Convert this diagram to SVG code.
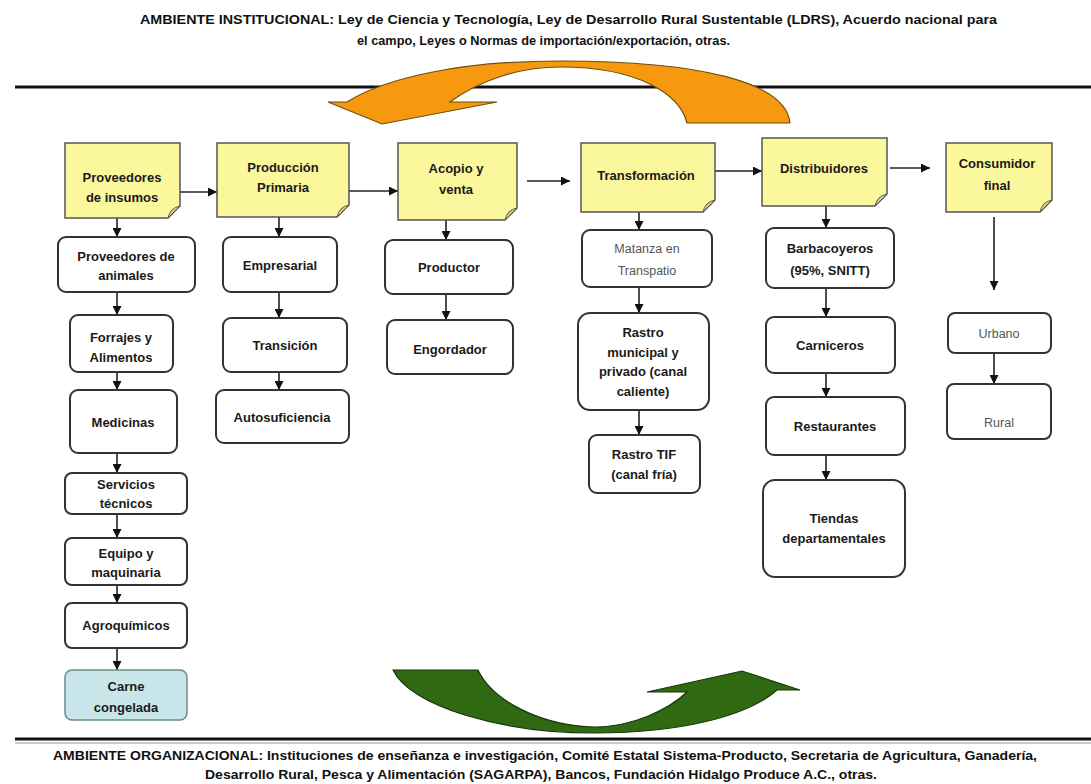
<svg xmlns="http://www.w3.org/2000/svg" width="1091" height="784" viewBox="0 0 1091 784">
<style>
.t{font-family:"Liberation Sans",Arial,sans-serif;font-weight:bold;font-size:13px;fill:#1a1a1a;text-anchor:middle}
.g{font-family:"Liberation Sans",Arial,sans-serif;font-size:12.5px;fill:#555;text-anchor:middle}
.hd{font-family:"Liberation Sans",Arial,sans-serif;font-weight:bold;font-size:12.5px;fill:#111}
.box{fill:#fff;stroke:#333;stroke-width:2}
.note{fill:#fbf79d;stroke:#555;stroke-width:1.5}
.fold{fill:#d9d278;stroke:#555;stroke-width:1}
.c{stroke:#222;stroke-width:1.6;fill:none;marker-end:url(#ah)}
</style>
<defs>
<marker id="ah" markerUnits="userSpaceOnUse" markerWidth="9" markerHeight="9" refX="9" refY="4.5" orient="auto">
<path d="M0,0 L9,4.5 L0,9 z" fill="#111"/>
</marker>
</defs>
<rect width="1091" height="784" fill="#fff"/>

<g id="titles">
<text class="hd" x="140" y="24" textLength="857" lengthAdjust="spacingAndGlyphs">AMBIENTE INSTITUCIONAL: Ley de Ciencia y Tecnología, Ley de Desarrollo Rural Sustentable (LDRS), Acuerdo nacional para</text>
<text class="hd" x="357" y="45" textLength="373" lengthAdjust="spacingAndGlyphs">el campo, Leyes o Normas de importación/exportación, otras.</text>
<text class="hd" x="53" y="760" textLength="984" lengthAdjust="spacingAndGlyphs">AMBIENTE ORGANIZACIONAL: Instituciones de enseñanza e investigación, Comité Estatal Sistema-Producto, Secretaria de Agricultura, Ganadería,</text>
<text class="hd" x="205" y="779" textLength="672" lengthAdjust="spacingAndGlyphs">Desarrollo Rural, Pesca y Alimentación (SAGARPA), Bancos, Fundación Hidalgo Produce A.C., otras.</text>
</g>

<g id="lines">
<line x1="15" y1="87" x2="1091" y2="87" stroke="#111" stroke-width="3"/>
<line x1="15" y1="739" x2="1091" y2="739" stroke="#111" stroke-width="3"/>
<line x1="15" y1="743" x2="1091" y2="743" stroke="#999" stroke-width="1"/>
</g>

<g id="orange-arrow">
<path d="M790,123 C786,82 700,61 560,61 C460,61 385,78 347,102 L328,102 L382,124 L497,102 L450,102 C480,80 520,67 560,67 C640,67 680,95 687,123 Z" fill="#f7990f" stroke="#6b5010" stroke-width="1.2"/>
</g>

<g id="green-arrow">
<path d="M393,670 L478,670 C492,700 540,726 595,727 C632,727 668,710 687,692 L647,692 L742,671 L800,690 L777,690 C748,716 680,733 595,733 C500,733 410,706 393,670 Z" fill="#2f6a12" stroke="#17380a" stroke-width="1.2"/>
</g>

<g id="connectors">
<line class="c" x1="180" y1="192" x2="217" y2="192"/>
<line class="c" x1="349" y1="191" x2="398" y2="191"/>
<line class="c" x1="527" y1="181" x2="570" y2="181"/>
<line class="c" x1="715" y1="171" x2="762" y2="171"/>
<line class="c" x1="890" y1="168" x2="930" y2="168"/>
<line class="c" x1="117" y1="218" x2="117" y2="237"/>
<line class="c" x1="117" y1="292" x2="117" y2="315"/>
<line class="c" x1="117" y1="372" x2="117" y2="390"/>
<line class="c" x1="117" y1="453" x2="117" y2="473"/>
<line class="c" x1="117" y1="514" x2="117" y2="538"/>
<line class="c" x1="117" y1="585" x2="117" y2="603"/>
<line class="c" x1="117" y1="648" x2="117" y2="670"/>
<line class="c" x1="279" y1="217" x2="279" y2="237"/>
<line class="c" x1="279" y1="292" x2="279" y2="318"/>
<line class="c" x1="279" y1="372" x2="279" y2="390"/>
<line class="c" x1="446" y1="220" x2="446" y2="240"/>
<line class="c" x1="446" y1="294" x2="446" y2="320"/>
<line class="c" x1="639" y1="212" x2="639" y2="230"/>
<line class="c" x1="639" y1="287" x2="639" y2="313"/>
<line class="c" x1="639" y1="410" x2="639" y2="435"/>
<line class="c" x1="826" y1="206" x2="826" y2="228"/>
<line class="c" x1="826" y1="288" x2="826" y2="317"/>
<line class="c" x1="826" y1="373" x2="826" y2="397"/>
<line class="c" x1="826" y1="455" x2="826" y2="480"/>
<line class="c" x1="994" y1="217" x2="994" y2="290"/>
<line class="c" x1="994" y1="353" x2="994" y2="384"/>
</g>

<g id="n-proveedores-insumos">
<path class="note" d="M65,143 H180 V206 L168,218 H65 Z"/>
<path class="fold" d="M180,206 L168,218 Q170,208 180,206 Z"/>
<text class="t" x="122" y="181.5">Proveedores</text>
<text class="t" x="122" y="201.5">de insumos</text>
</g>
<g id="n-produccion-primaria">
<path class="note" d="M217,143 H349 V205 L337,217 H217 Z"/>
<path class="fold" d="M349,205 L337,217 Q339,207 349,205 Z"/>
<text class="t" x="283" y="171.5">Producción</text>
<text class="t" x="283" y="191.5">Primaria</text>
</g>
<g id="n-acopio-venta">
<path class="note" d="M398,143 H517 V208 L505,220 H398 Z"/>
<path class="fold" d="M517,208 L505,220 Q507,210 517,208 Z"/>
<text class="t" x="456" y="172.5">Acopio y</text>
<text class="t" x="456" y="193.5">venta</text>
</g>
<g id="n-transformacion">
<path class="note" d="M581,143 H715 V200 L703,212 H581 Z"/>
<path class="fold" d="M715,200 L703,212 Q705,202 715,200 Z"/>
<text class="t" x="646" y="179.5">Transformación</text>
</g>
<g id="n-distribuidores">
<path class="note" d="M762,138 H887 V194 L875,206 H762 Z"/>
<path class="fold" d="M887,194 L875,206 Q877,196 887,194 Z"/>
<text class="t" x="824" y="172.5">Distribuidores</text>
</g>
<g id="n-consumidor-final">
<path class="note" d="M946,143 H1052 V200 L1040,212 H946 Z"/>
<path class="fold" d="M1052,200 L1040,212 Q1042,202 1052,200 Z"/>
<text class="t" x="997" y="167.5">Consumidor</text>
<text class="t" x="997" y="189.5">final</text>
</g>

<g id="n-proveedores-animales">
<rect class="box" x="58" y="237" width="137" height="55" rx="8"/>
<text class="t" x="126" y="260.5">Proveedores de</text>
<text class="t" x="126" y="279.5">animales</text>
</g>
<g id="n-forrajes">
<rect class="box" x="70" y="315" width="103" height="57" rx="8"/>
<text class="t" x="121" y="341.5">Forrajes y</text>
<text class="t" x="121" y="361.5">Alimentos</text>
</g>
<g id="n-medicinas">
<rect class="box" x="70" y="390" width="107" height="63" rx="8"/>
<text class="t" x="123" y="426.5">Medicinas</text>
</g>
<g id="n-servicios">
<rect class="box" x="65" y="473" width="122" height="41" rx="7"/>
<text class="t" x="126" y="488.5">Servicios</text>
<text class="t" x="126" y="507.5">técnicos</text>
</g>
<g id="n-equipo">
<rect class="box" x="65" y="538" width="122" height="47" rx="7"/>
<text class="t" x="126" y="557.5">Equipo y</text>
<text class="t" x="126" y="576.5">maquinaria</text>
</g>
<g id="n-agroquimicos">
<rect class="box" x="65" y="603" width="122" height="45" rx="7"/>
<text class="t" x="126" y="629.5">Agroquímicos</text>
</g>
<g id="n-carne-congelada">
<rect x="65" y="670" width="122" height="50" rx="7" fill="#c8e6ea" stroke="#6a8a8e" stroke-width="1.5"/>
<text class="t" x="126" y="690.5">Carne</text>
<text class="t" x="126" y="711.5">congelada</text>
</g>

<g id="n-empresarial">
<rect class="box" x="223" y="237" width="114" height="55" rx="8"/>
<text class="t" x="280" y="269.5">Empresarial</text>
</g>
<g id="n-transicion">
<rect class="box" x="223" y="318" width="124" height="54" rx="8"/>
<text class="t" x="285" y="349.5">Transición</text>
</g>
<g id="n-autosuficiencia">
<rect class="box" x="216" y="390" width="133" height="53" rx="8"/>
<text class="t" x="282" y="421.5">Autosuficiencia</text>
</g>

<g id="n-productor">
<rect class="box" x="385" y="240" width="128" height="54" rx="8"/>
<text class="t" x="449" y="271.5">Productor</text>
</g>
<g id="n-engordador">
<rect class="box" x="387" y="320" width="126" height="54" rx="8"/>
<text class="t" x="450" y="353.5">Engordador</text>
</g>

<g id="n-matanza">
<rect class="box" x="582" y="230" width="130" height="57" rx="8"/>
<text class="g" x="647" y="252.5">Matanza en</text>
<text class="g" x="647" y="274.5">Transpatio</text>
</g>
<g id="n-rastro-municipal">
<rect class="box" x="578" y="313" width="131" height="97" rx="12"/>
<text class="t" x="643" y="336.5">Rastro</text>
<text class="t" x="643" y="356.5">municipal y</text>
<text class="t" x="643" y="375.5">privado (canal</text>
<text class="t" x="643" y="395.5">caliente)</text>
</g>
<g id="n-rastro-tif">
<rect class="box" x="589" y="435" width="111" height="58" rx="8"/>
<text class="t" x="644" y="458.5">Rastro TIF</text>
<text class="t" x="644" y="478.5">(canal fría)</text>
</g>

<g id="n-barbacoyeros">
<rect class="box" x="766" y="228" width="128" height="60" rx="8"/>
<text class="t" x="830" y="252.5">Barbacoyeros</text>
<text class="t" x="830" y="274.5">(95%, SNITT)</text>
</g>
<g id="n-carniceros">
<rect class="box" x="766" y="317" width="129" height="56" rx="8"/>
<text class="t" x="830" y="349.5">Carniceros</text>
</g>
<g id="n-restaurantes">
<rect class="box" x="766" y="397" width="139" height="58" rx="8"/>
<text class="t" x="835" y="430.5">Restaurantes</text>
</g>
<g id="n-tiendas">
<rect class="box" x="763" y="480" width="142" height="97" rx="12"/>
<text class="t" x="834" y="522.5">Tiendas</text>
<text class="t" x="834" y="542.5">departamentales</text>
</g>

<g id="n-urbano">
<rect class="box" x="948" y="313" width="103" height="40" rx="7"/>
<text class="g" x="999" y="337.5">Urbano</text>
</g>
<g id="n-rural">
<rect class="box" x="947" y="384" width="104" height="55" rx="7"/>
<text class="g" x="999" y="426.5">Rural</text>
</g>
</svg>
